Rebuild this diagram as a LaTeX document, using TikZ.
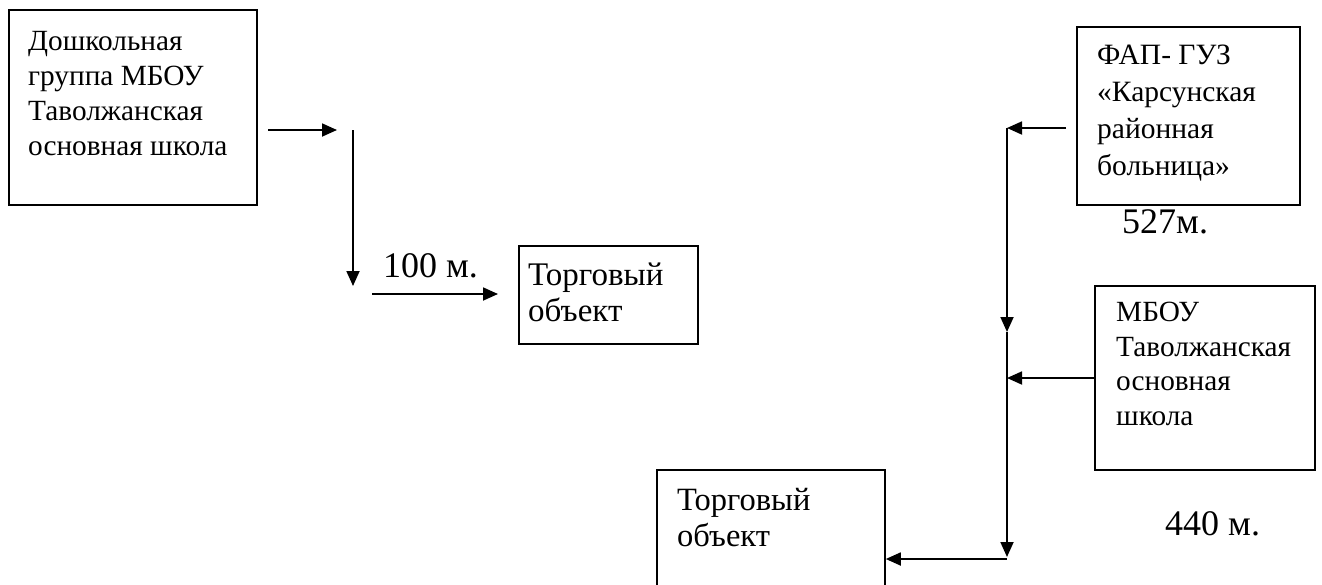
\documentclass[tikz,border=0pt]{standalone}
\usepackage{fontspec}
\setmainfont{Liberation Serif}
\usetikzlibrary{arrows.meta}
\tikzset{
  boxshape/.style={draw, line width=1.8pt, rectangle, inner sep=0pt, anchor=north west},
  boxtext/.style={anchor=base west, inner sep=0pt, align=left},
  conn/.style={line width=1.8pt, -{Triangle[length=15pt,width=13pt]}},
  dist/.style={anchor=base west, inner sep=0pt, font=\fontsize{36}{40}\selectfont}
}
\begin{document}
\begin{tikzpicture}[x=1pt,y=-1pt]
\useasboundingbox (0,0) rectangle (1322,584);
\clip (0,0) rectangle (1322,584);
% boxes
\node[boxshape, minimum width=248pt, minimum height=195pt] (b1) at (8,9) {};
\node[boxtext, font=\fontsize{29.3}{35}\selectfont] (t1) at (28,155) {Дошкольная\\группа МБОУ\\Таволжанская\\основная школа};
\node[boxshape, minimum width=179pt, minimum height=98pt] (b2) at (518,245) {};
\node[boxtext, font=\fontsize{33}{36}\selectfont] (t2) at (528,321) {Торговый\\объект};
\node[boxshape, minimum width=223pt, minimum height=178pt] (b3) at (1076,26) {};
\node[boxtext, font=\fontsize{29.5}{37}\selectfont] (t3) at (1097,175) {ФАП- ГУЗ\\«Карсунская\\районная\\больница»};
\node[boxshape, minimum width=220pt, minimum height=184pt] (b4) at (1094,285) {};
\node[boxtext, font=\fontsize{29.3}{34.5}\selectfont] (t4) at (1116,425) {МБОУ\\Таволжанская\\основная\\школа};
\node[boxshape, minimum width=228pt, minimum height=140pt] (b5) at (656,469) {};
\node[boxtext, font=\fontsize{32.5}{36}\selectfont] (t5) at (677,546) {Торговый\\объект};
% distance labels
\node[dist] (l1) at (383,277) {100 м.};
\node[dist] (l2) at (1122,233) {527м.};
\node[dist] (l3) at (1165,535) {440 м.};
% connector points
\coordinate (p1) at (268,130);
\coordinate (p2) at (337,130);
\coordinate (p3) at (353,130);
\coordinate (p4) at (353,286);
\coordinate (p5) at (372,294);
\coordinate (p6) at (498,294);
\coordinate (q1) at (1066,128);
\coordinate (q2) at (1007,128);
\coordinate (q3) at (1007,332);
\coordinate (q4) at (1007,557);
\coordinate (q5) at (1007,559);
\coordinate (r1) at (b4.west |- 0,378);
\coordinate (r2) at (1007,378);
% connectors
\draw[conn] (p1) -- (p2);
\draw[conn] (p3) -- (p4);
\draw[conn] (p5) -- (p6);
\draw[conn] (q1) -- (q2);
\draw[conn] (q2) -- (q3);
\draw[conn] (q3) -- (q4);
\draw[conn] (r1) -- (r2);
\draw[conn] (q5) -- (b5.east |- q5);
\end{tikzpicture}
\end{document}
